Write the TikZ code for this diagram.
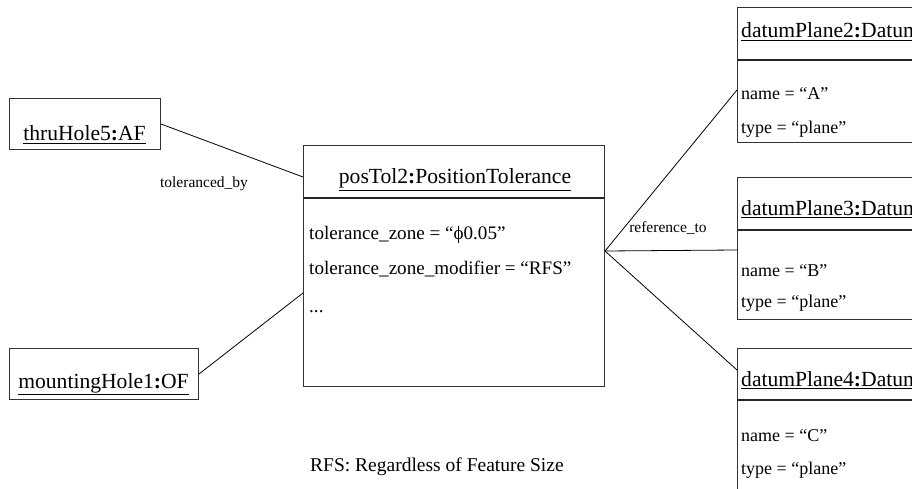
\documentclass[tikz,border=0pt]{standalone}
\usepackage{fontspec}
\setmainfont{Liberation Serif}
\usetikzlibrary{calc}
\begin{document}
\begin{tikzpicture}[x=1pt,y=-1pt,
 box/.style={draw=black!80,line width=1pt,rectangle,inner sep=0pt,anchor=north west},
 sepline/.style={draw=black!85,line width=1.2pt},
 conn/.style={draw=black,line width=0.8pt},
 ttl/.style={font=\fontsize{21.6}{25}\selectfont,anchor=base,inner sep=0pt},
 dttl/.style={font=\fontsize{21.6}{25}\selectfont,anchor=base west,inner sep=0pt},
 attr/.style={font=\fontsize{19.1}{23}\selectfont,anchor=base west,inner sep=0pt},
 dattr/.style={font=\fontsize{18}{22}\selectfont,anchor=base west,inner sep=0pt},
 lbl/.style={font=\fontsize{15.5}{18}\selectfont,anchor=base,inner sep=0pt},
 note/.style={font=\fontsize{19.5}{23}\selectfont,anchor=base west,inner sep=0pt}]
\useasboundingbox (0,0) rectangle (912,489);
\clip (0,0) rectangle (912,489);

% boxes
\node[box,minimum width=151pt,minimum height=51pt] (thru) at (9,98) {};
\node[box,minimum width=189pt,minimum height=51pt] (mount) at (9,348) {};
\node[box,minimum width=301pt,minimum height=241pt] (pos) at (303,145) {};
\node[box,minimum width=240pt,minimum height=135pt] (dp2) at (737,7) {};
\node[box,minimum width=240pt,minimum height=142pt] (dp3) at (737,177) {};
\node[box,minimum width=240pt,minimum height=200pt] (dp4) at (737,348) {};

% separators
\draw[sepline] ([yshift=-53pt]pos.north west) -- ([yshift=-53pt]pos.north east);
\draw[sepline] ([yshift=-53pt]dp2.north west) -- ([yshift=-53pt]dp2.north east);
\draw[sepline] ([yshift=-53pt]dp3.north west) -- ([yshift=-53pt]dp3.north east);
\draw[sepline] ([yshift=-52pt]dp4.north west) -- ([yshift=-52pt]dp4.north east);

% titles
\node[ttl] (thruT) at (84.5,141) {\underline{thruHole5\textbf{:}AF}};
\node[ttl] (mountT) at (103.5,388) {\underline{mountingHole1\textbf{:}OF}};
\node[ttl] (posT) at (455,184) {\underline{posTol2\textbf{:}PositionTolerance}};
\node[dttl] (dp2T) at (741,38) {\underline{datumPlane2\textbf{:}Datum}};
\node[dttl] (dp3T) at (741,215) {\underline{datumPlane3\textbf{:}Datum}};
\node[dttl] (dp4T) at (741,386) {\underline{datumPlane4\textbf{:}Datum}};

% attributes
\node[attr] (a1) at (309,239) {tolerance\_zone = “ϕ0.05”};
\node[attr] (a2) at (309,274) {tolerance\_zone\_modifier = “RFS”};
\node[attr] (a3) at (309,312) {...};
\node[dattr] (n2) at (741,100) {name = “A”};
\node[dattr] (t2) at (741,134) {type = “plane”};
\node[dattr] (n3) at (741,276) {name = “B”};
\node[dattr] (t3) at (741,307) {type = “plane”};
\node[dattr] (n4) at (741,441) {name = “C”};
\node[dattr] (t4) at (741,474) {type = “plane”};

% connectors
\coordinate (pin1) at ([yshift=-32pt]pos.north west);
\coordinate (pin2) at ([yshift=-148pt]pos.north west);
\coordinate (j) at ([yshift=-106pt]pos.north east);
\coordinate (e2) at ([yshift=-83pt]dp2.north west);
\coordinate (e3) at ([yshift=-73pt]dp3.north west);
\coordinate (e4) at ([yshift=-22pt]dp4.north west);
\draw[conn] (thru.east) -- (pin1);
\draw[conn] (mount.east) -- (pin2);
\draw[conn] (j) -- (e2);
\draw[conn] (j) -- (e3);
\draw[conn] (j) -- (e4);

% labels
\node[lbl] (l1) at (204,188) {toleranced\_by};
\node[lbl] (l2) at (668,232) {reference\_to};
\node[note] (rfs) at (310,471) {RFS: Regardless of Feature Size};
\end{tikzpicture}
\end{document}
